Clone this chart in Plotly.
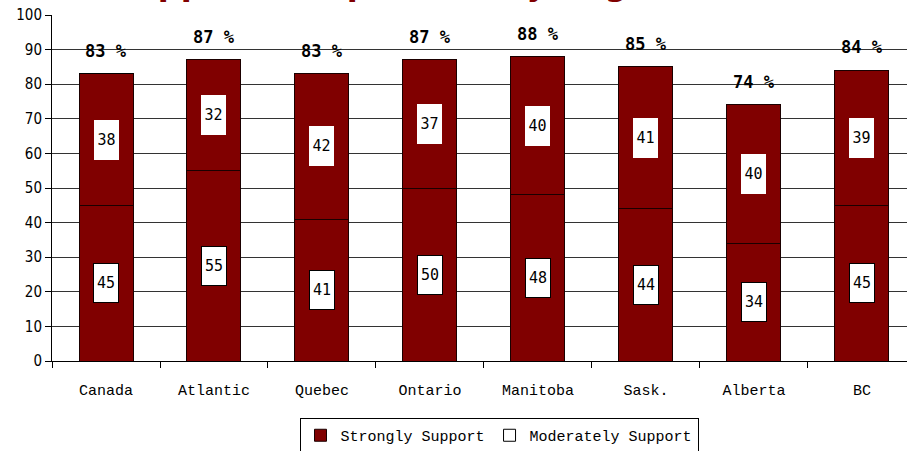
import plotly.graph_objects as go

regions = ["Canada", "Atlantic", "Quebec", "Ontario", "Manitoba", "Sask.", "Alberta", "BC"]
strongly = [45, 55, 41, 50, 48, 44, 34, 45]
moderately = [38, 32, 42, 37, 40, 41, 40, 39]
totals = [83, 87, 83, 87, 88, 85, 74, 84]
total_labels = [f"{t} %" for t in totals]
y_ticks = list(range(0, 101, 10))
title_text = "Support Compromise by Region"

RED = "#800000"
MONO = "Liberation Mono"
SANS = "DejaVu Sans Condensed, DejaVu Sans"
SMONO = "DejaVu Sans Mono"

fig = go.Figure()
fig.add_trace(go.Bar(x=regions, y=strongly, name="Strongly Support",
                     marker=dict(color=RED, line=dict(color="#1a0000", width=1))))
fig.add_trace(go.Bar(x=regions, y=moderately, name="Moderately Support", showlegend=False,
                     marker=dict(color=RED, line=dict(color="#1a0000", width=1))))
# legend entry for moderately (white swatch as in the original legend)
fig.add_trace(go.Bar(x=[regions[0]], y=[0], name="Moderately Support", hoverinfo="skip",
                     marker=dict(color="white", line=dict(color="black", width=1))))

annotations = []
for r, s, m, t, lab in zip(regions, strongly, moderately, totals, total_labels):
    annotations.append(dict(x=r, y=s / 2, text=str(s), showarrow=False,
                            font=dict(family=SMONO, size=15, color="black"),
                            bgcolor="white", bordercolor="black", borderwidth=1,
                            width=24, height=38, borderpad=0))
    annotations.append(dict(x=r, y=s + m / 2, text=str(m), showarrow=False,
                            font=dict(family=SMONO, size=15, color="black"),
                            bgcolor="white", borderwidth=0,
                            width=25, height=40, borderpad=0))
    annotations.append(dict(x=r, y=t, text=f"<b>{lab}</b>", showarrow=False, yshift=23,
                            font=dict(family=SMONO, size=17, color="black")))

annotations.append(dict(xref="paper", yref="paper", x=(397 - 52) / 855, y=1 + 10 / 346,
                        yanchor="bottom", text=f"<b>{title_text}</b>", showarrow=False,
                        font=dict(family="DejaVu Sans", size=32, color=RED)))

fig.update_layout(
    width=907, height=451, autosize=False,
    margin=dict(l=52, r=0, t=15, b=90, autoexpand=False),
    barmode="stack", bargap=0.5,
    plot_bgcolor="white", paper_bgcolor="white",
    annotations=annotations,
    showlegend=True,
    legend=dict(orientation="h", x=499 / 907, xanchor="center", xref="container",
                y=1 - 418 / 451, yanchor="top", yref="container",
                bordercolor="black", borderwidth=1, bgcolor="white",
                font=dict(family=MONO, size=15, color="black"),
                traceorder="normal"),
    xaxis=dict(type="category", range=[-0.5, 7.417], showline=True, linecolor="black",
               linewidth=1, ticks="outside", tickson="boundaries", ticklen=6,
               tickcolor="black", showgrid=False, automargin=False,
               tickfont=dict(family=MONO, size=15, color="black"),
               ticklabelstandoff=15),
    yaxis=dict(range=[0, 100], tickvals=y_ticks, showline=True, linecolor="black",
               linewidth=1, ticks="outside", ticklen=6, tickcolor="black",
               showgrid=True, gridcolor="#333", gridwidth=1, zeroline=False,
               automargin=False, ticklabeloverflow="allow",
               tickfont=dict(family=SANS, size=15, color="black")),
)

fig.write_html("out.html", config={"displayModeBar": False},
               post_script="document.body.style.margin='0';document.body.style.overflow='hidden';")
